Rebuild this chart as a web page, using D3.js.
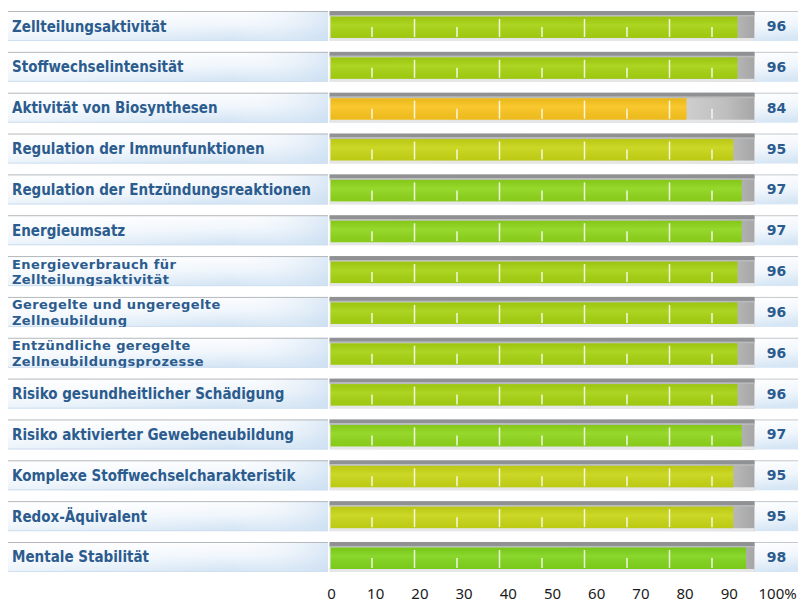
<!DOCTYPE html>
<html>
<head>
<meta charset="utf-8">
<script src="https://cdn.jsdelivr.net/npm/d3@7"></script>
<style>
  html, body { margin: 0; padding: 0; background: #fff; }
  svg { display: block; }
</style>
</head>
<body>
<div id="chart"></div>
<script>
const W = 798, H = 603;

// data
const labels = [
  "Zellteilungsaktivität",
  "Stoffwechselintensität",
  "Aktivität von Biosynthesen",
  "Regulation der Immunfunktionen",
  "Regulation der Entzündungsreaktionen",
  "Energieumsatz",
  "Energieverbrauch für|Zellteilungsaktivität",
  "Geregelte und ungeregelte|Zellneubildung",
  "Entzündliche geregelte|Zellneubildungsprozesse",
  "Risiko gesundheitlicher Schädigung",
  "Risiko aktivierter Gewebeneubildung",
  "Komplexe Stoffwechselcharakteristik",
  "Redox-Äquivalent",
  "Mentale Stabilität"
];
const values = [96, 96, 84, 95, 97, 97, 96, 96, 96, 96, 97, 95, 95, 98];
const axisTicks = [0, 10, 20, 30, 40, 50, 60, 70, 80, 90, 100];
const innerTicks = [10, 20, 30, 40, 50, 60, 70, 80, 90];

const rows = labels.map((l, i) => ({ key: i, label: l, value: values[i] }));

const y = d3.scaleBand().domain(d3.range(labels.length)).range([11, 572]).paddingInner(0.265);
const x = d3.scaleLinear().domain([0, 100]).range([329.5, 754.5]);
const xAxis = d3.scaleLinear().domain([0, 100]).range([331, 773]);
const color = d3.scaleThreshold()
  .domain([90, 96, 97, 98])
  .range(["#f9c41d", "#c7d515", "#a6d211", "#8ed51b", "#80d41c"]);

const svg = d3.select("#chart").append("svg").attr("width", W).attr("height", H);
const defs = svg.append("defs");

const gLab = defs.append("linearGradient").attr("id", "labGrad")
  .attr("x1", 0).attr("y1", 0).attr("x2", 0.15).attr("y2", 1);
gLab.append("stop").attr("offset", "0%").attr("stop-color", "#ffffff");
gLab.append("stop").attr("offset", "55%").attr("stop-color", "#f0f6fc");
gLab.append("stop").attr("offset", "100%").attr("stop-color", "#d6e6f5");

const gLabH = defs.append("linearGradient").attr("id", "labGradH")
  .attr("x1", 0).attr("y1", 0).attr("x2", 1).attr("y2", 0);
gLabH.append("stop").attr("offset", "0%").attr("stop-color", "#ffffff").attr("stop-opacity", 0.5);
gLabH.append("stop").attr("offset", "70%").attr("stop-color", "#ffffff").attr("stop-opacity", 0);
gLabH.append("stop").attr("offset", "100%").attr("stop-color", "#c9ddf1").attr("stop-opacity", 0.6);

const gTrack = defs.append("linearGradient").attr("id", "trackGrad")
  .attr("x1", 0).attr("y1", 0).attr("x2", 1).attr("y2", 0);
gTrack.append("stop").attr("offset", "0%").attr("stop-color", "#ececec");
gTrack.append("stop").attr("offset", "80%").attr("stop-color", "#d4d4d4");
gTrack.append("stop").attr("offset", "93%").attr("stop-color", "#bfbfbf");
gTrack.append("stop").attr("offset", "100%").attr("stop-color", "#a6a6a6");

const gShade = defs.append("linearGradient").attr("id", "shadeGrad")
  .attr("x1", 0).attr("y1", 0).attr("x2", 0).attr("y2", 1);
gShade.append("stop").attr("offset", "0%").attr("stop-color", "#000").attr("stop-opacity", 0.06);
gShade.append("stop").attr("offset", "40%").attr("stop-color", "#fff").attr("stop-opacity", 0.08);
gShade.append("stop").attr("offset", "100%").attr("stop-color", "#000").attr("stop-opacity", 0.05);

const bh = y.bandwidth();

const row = svg.selectAll(".row").data(rows).enter().append("g")
  .attr("class", "row")
  .attr("transform", d => `translate(0,${y(d.key)})`);

// label box
row.append("clipPath").attr("id", d => "clip" + d.key)
  .append("rect").attr("x", 8).attr("y", 0).attr("width", 320).attr("height", bh);
row.append("rect").attr("x", 8).attr("y", 0).attr("width", 320).attr("height", bh)
  .attr("fill", "url(#labGrad)");
row.append("rect").attr("x", 8).attr("y", 0).attr("width", 320).attr("height", bh)
  .attr("fill", "url(#labGradH)");
row.append("line").attr("x1", 8).attr("x2", 328).attr("y1", 0.5).attr("y2", 0.5)
  .attr("stroke", "#b4b8bc");
row.append("line").attr("x1", 8).attr("x2", 328).attr("y1", bh - 0.5).attr("y2", bh - 0.5)
  .attr("stroke", "#cfdff0");

// two-line labels: smaller size so the lines do not collide
row.each(function (d) {
  const parts = d.label.split("|");
  const g = d3.select(this);
  const two = parts.length > 1;
  parts.forEach((p, k) => {
    g.append("text")
      .attr("clip-path", `url(#clip${d.key})`)
      .attr("x", 12)
      .attr("y", two ? 12.5 + k * 15.5 : bh / 2 + 5.5)
      .attr("font-family", two ? "'DejaVu Sans', sans-serif" : "'DejaVu Sans Condensed', 'DejaVu Sans', sans-serif")
      .attr("font-weight", "bold")
      .attr("font-size", (two ? 13 : 15) + "px")
      .attr("letter-spacing", two ? "0.4px" : null)
      .attr("fill", "#2c5c8e")
      .text(p);
  });
});

// track
row.append("rect").attr("x", x(0)).attr("y", 0).attr("width", x(100) - x(0)).attr("height", bh)
  .attr("fill", "url(#trackGrad)");
row.append("rect").attr("x", x(0)).attr("y", 0).attr("width", x(100) - x(0)).attr("height", 4)
  .attr("fill", "#8f9193");
row.append("rect").attr("x", x(0)).attr("y", 4).attr("width", x(100) - x(0)).attr("height", 1.5)
  .attr("fill", "#b9bbbd");
row.append("rect").attr("x", x(0)).attr("y", bh - 3).attr("width", x(100) - x(0)).attr("height", 3)
  .attr("fill", "#e4e6e8");

// value fill
row.append("rect")
  .attr("x", x(0) + 1)
  .attr("y", 5.5)
  .attr("width", d => x(d.value) - x(0) - 1)
  .attr("height", bh - 8.5)
  .attr("fill", d => color(d.value));
row.append("rect")
  .attr("x", x(0) + 1)
  .attr("y", 5.5)
  .attr("width", d => x(d.value) - x(0) - 1)
  .attr("height", bh - 8.5)
  .attr("fill", "url(#shadeGrad)");

// inner tick marks
row.selectAll(".tk").data(innerTicks).enter().append("line")
  .attr("class", "tk")
  .attr("x1", t => x(t)).attr("x2", t => x(t))
  .attr("y1", t => t % 20 === 0 ? 8 : 16)
  .attr("y2", bh - 4)
  .attr("stroke", "#ffffff")
  .attr("stroke-opacity", 0.85)
  .attr("stroke-width", 1.5);

// value box
row.append("rect").attr("x", 755).attr("y", 0).attr("width", 43).attr("height", bh)
  .attr("fill", "url(#labGrad)");
row.append("line").attr("x1", 755).attr("x2", 798).attr("y1", 0.5).attr("y2", 0.5)
  .attr("stroke", "#c4c8cc");
row.append("text")
  .attr("x", 776.5).attr("y", bh / 2 + 5)
  .attr("text-anchor", "middle")
  .attr("font-family", "'DejaVu Sans', sans-serif")
  .attr("font-weight", "bold")
  .attr("font-size", "14px")
  .attr("fill", "#2c5c8e")
  .text(d => d.value);

// bottom axis
const ax = svg.append("g").attr("transform", "translate(0,582)")
  .call(d3.axisBottom(xAxis).tickValues(axisTicks).tickSize(0).tickPadding(6)
    .tickFormat(d => d === 100 ? "100%" : d));
ax.select(".domain").remove();
ax.selectAll("text")
  .attr("font-family", "'Noto Sans', sans-serif")
  .attr("font-size", "15px")
  .attr("fill", "#1a1a1a");
ax.selectAll(".tick").filter(d => d === 100).select("text")
  .attr("text-anchor", "start").attr("x", -15);
</script>
</body>
</html>
